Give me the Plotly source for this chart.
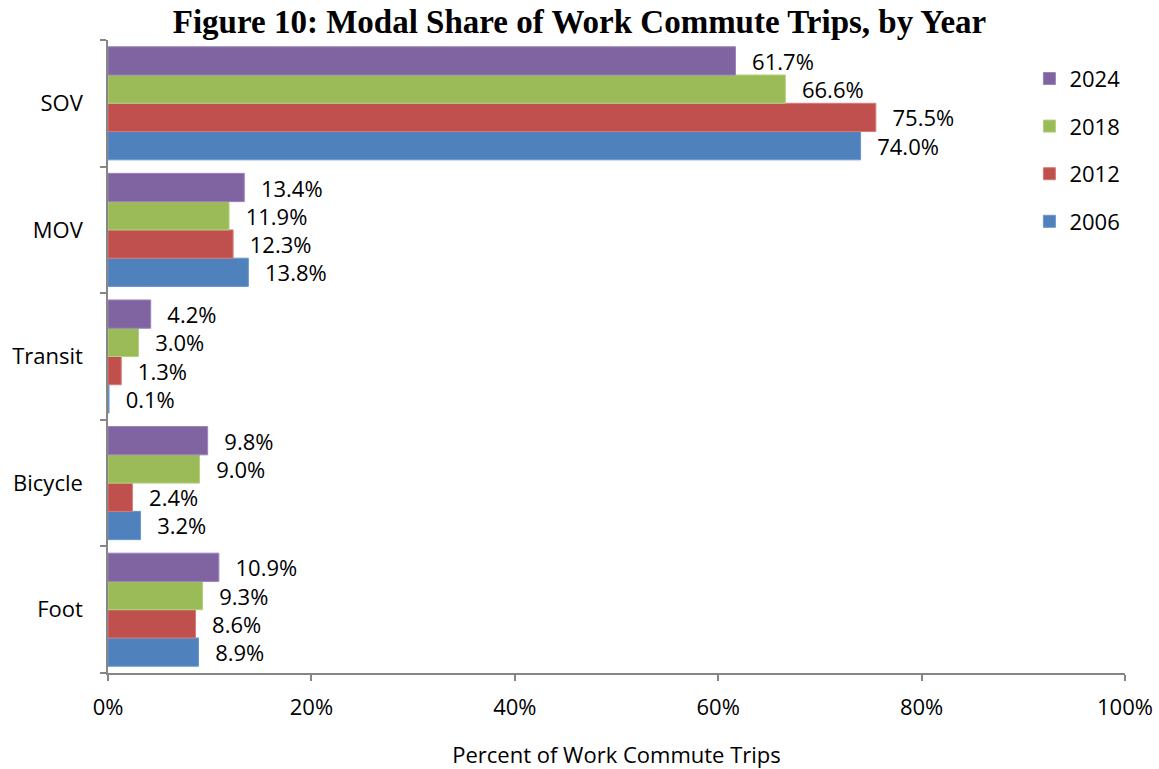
import plotly.graph_objects as go

# Commute modes (listed bottom-to-top on the chart) and survey years
modes = ["Foot", "Bicycle", "Transit", "MOV", "SOV"]
years = ["2006", "2012", "2018", "2024"]

# Percent of work commute trips per mode, one list per survey year
share_2006 = [8.9, 3.2, 0.1, 13.8, 74.0]
share_2012 = [8.6, 2.4, 1.3, 12.3, 75.5]
share_2018 = [9.3, 9.0, 3.0, 11.9, 66.6]
share_2024 = [10.9, 9.8, 4.2, 13.4, 61.7]

x_ticks = [0, 20, 40, 60, 80, 100]
x_tick_labels = ["0%", "20%", "40%", "60%", "80%", "100%"]

series = {
    "2006": share_2006,
    "2012": share_2012,
    "2018": share_2018,
    "2024": share_2024,
}
fill = {"2006": "#4F81BD", "2012": "#C0504D", "2018": "#9BBB59", "2024": "#8064A2"}
edge = {"2006": "#6A96CC", "2012": "#D77A78", "2018": "#B3CF7F", "2024": "#9A84B8"}
# newest year listed first in the legend
rank = {"2024": 1, "2018": 2, "2012": 3, "2006": 4}

FONT = "'Open Sans', 'Noto Sans', sans-serif"
FS = 22
PAD = "\u00a0\u00a0\u200a"

fig = go.Figure()
for yr in years:
    vals = series[yr]
    fig.add_trace(go.Bar(
        y=modes,
        x=vals,
        orientation="h",
        name=yr,
        legendgroup=yr,
        legendrank=rank[yr],
        marker=dict(color=fill[yr], line=dict(color=edge[yr], width=1)),
        text=[f"{PAD}{v:.1f}%" for v in vals],
        textposition="outside",
        textfont=dict(family=FONT, size=FS, color="#000000"),
        constraintext="none",
        cliponaxis=False,
        hoverinfo="skip",
    ))

fig.update_layout(
    width=1159,
    height=769,
    margin=dict(l=108, r=34, t=40, b=96, autoexpand=False),
    paper_bgcolor="white",
    plot_bgcolor="white",
    barmode="group",
    bargap=0.107,
    bargroupgap=0,
    title=dict(
        text="<b>Figure 10: Modal Share of Work Commute Trips, by Year</b>",
        x=0.5,
        xanchor="center",
        y=0.972,
        yanchor="middle",
        font=dict(family="'Liberation Serif', serif", size=33, color="#000000"),
    ),
    font=dict(family=FONT, size=FS, color="#000000"),
    legend=dict(
        x=0.906,
        xanchor="left",
        y=0.972,
        yanchor="top",
        traceorder="grouped",
        tracegroupgap=16,
        font=dict(family=FONT, size=FS, color="#000000"),
        bgcolor="rgba(0,0,0,0)",
    ),
    xaxis=dict(
        range=[0, 100],
        tickvals=x_ticks,
        ticktext=x_tick_labels,
        automargin=False,
        showgrid=False,
        zeroline=False,
        showline=True,
        linecolor="#868686",
        linewidth=1.5,
        ticks="outside",
        ticklen=6,
        tickcolor="#868686",
        tickwidth=1.5,
        ticklabelstandoff=8,
        tickfont=dict(family=FONT, size=FS, color="#000000"),
        title=dict(text="Percent of Work Commute Trips", standoff=29,
                   font=dict(family=FONT, size=FS, color="#000000")),
    ),
    yaxis=dict(
        type="category",
        categoryorder="array",
        categoryarray=modes,
        automargin=False,
        showgrid=False,
        zeroline=False,
        showline=True,
        linecolor="#868686",
        linewidth=1.5,
        ticks="outside",
        tickson="boundaries",
        ticklen=6,
        tickcolor="#868686",
        tickwidth=1.5,
        ticklabelstandoff=19,
        tickfont=dict(family=FONT, size=FS, color="#000000"),
    ),
)

fig.write_html("out.html")
